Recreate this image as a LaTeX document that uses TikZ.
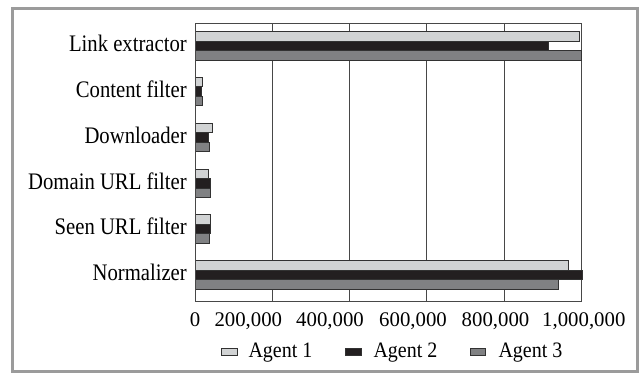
\documentclass[tikz,border=0pt]{standalone}
\usepackage{fontspec}
\setmainfont{Liberation Serif}
\newfontfamily\catfont[FakeStretch=0.873]{Liberation Serif}
\newfontfamily\legfont[FakeStretch=0.91]{Liberation Serif}
\definecolor{frm}{RGB}{155,155,155}
\definecolor{ag1}{RGB}{209,211,212}
\definecolor{ag2}{RGB}{35,31,32}
\definecolor{ag3}{RGB}{128,129,131}
\definecolor{edge}{RGB}{50,50,50}
\tikzset{
  bar/.style={draw=edge, line width=0.9pt},
  grid line/.style={draw=edge!90, line width=0.9pt},
  catlabel/.style={anchor=base east, inner sep=0pt, font=\catfont\fontsize{23.7pt}{26pt}\selectfont},
  ticklabel/.style={anchor=base, inner sep=0pt, font=\fontsize{20.8pt}{24pt}\selectfont},
  legtext/.style={anchor=base west, inner sep=0pt, font=\legfont\fontsize{22pt}{25pt}\selectfont},
}
\begin{document}
\begin{tikzpicture}[x=1pt,y=-1pt]
\useasboundingbox (0,0) rectangle (640,374);
\fill[white] (0,0) rectangle (640,374);
\draw[frm, line width=3pt] (12,8.5) rectangle (637.5,371.5);
% grid
\foreach \gx in {272.7,349.3,426.7,504.3} \draw[grid line] (\gx,23.3) -- (\gx,301.7);
\draw[grid line] (195,23.3) rectangle (581.7,301.7);
% bars: values in millions
\def\sc{386.7}
\foreach \i/\a/\b/\c in {0/0.994/0.9137/1.0, 1/0.019/0.0155/0.019, 2/0.046/0.036/0.037, 3/0.036/0.039/0.041, 4/0.041/0.039/0.037, 5/0.966/1.001/0.9395} {
  \pgfmathsetmacro\t{31.7+45.8*\i}
  \fill[ag1] (195,\t) rectangle ({195+\a*\sc},{\t+9.43});
  \draw[bar] (195,\t) rectangle ({195+\a*\sc},{\t+9.43});
  \fill[ag2] (195,{\t+9.43}) rectangle ({195+\b*\sc},{\t+18.86});
  \draw[bar] (195,{\t+9.43}) rectangle ({195+\b*\sc},{\t+18.86});
  \fill[ag3] (195,{\t+18.86}) rectangle ({195+\c*\sc},{\t+28.3});
  \draw[bar] (195,{\t+18.86}) rectangle ({195+\c*\sc},{\t+28.3});
}
\draw[grid line] (195,23.3) -- (195,301.7);
% category labels
\node[catlabel] (c1) at (187,51.7) {Link extractor};
\node[catlabel] (c2) at (187,97.5) {Content filter};
\node[catlabel] (c3) at (187,143.3) {Downloader};
\node[catlabel] (c4) at (187,189.1) {Domain URL filter};
\node[catlabel] (c5) at (187,234.9) {Seen URL filter};
\node[catlabel] (c6) at (187,280.7) {Normalizer};
% tick labels
\node[ticklabel] (t0) at (195,326.5) {0};
\node[ticklabel] (t1) at (248.3,326.5) {200,000};
\node[ticklabel] (t2) at (330,326.5) {400,000};
\node[ticklabel] (t3) at (413,326.5) {600,000};
\node[ticklabel] (t4) at (495.5,326.5) {800,000};
\node[ticklabel] (t5) at (583.8,326.5) {1,000,000};
% legend
\draw[bar, fill=ag1] (221.7,348.3) rectangle (237.7,355.7);
\node[legtext] (l1) at (248.3,357.3) {Agent 1};
\draw[bar, fill=ag2] (345,348.3) rectangle (361.7,355.7);
\node[legtext] (l2) at (373.3,357.3) {Agent 2};
\draw[bar, fill=ag3] (470,348.3) rectangle (485.7,355.7);
\node[legtext] (l3) at (498.3,357.3) {Agent 3};
\end{tikzpicture}
\end{document}
